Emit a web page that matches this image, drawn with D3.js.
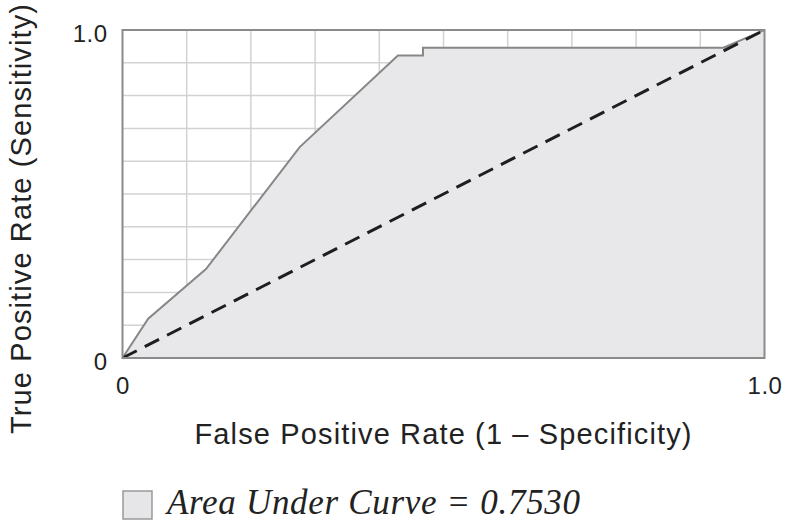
<!DOCTYPE html>
<html>
<head>
<meta charset="utf-8">
<script src="https://cdn.jsdelivr.net/npm/d3@7/dist/d3.min.js"></script>
<style>
  html, body { margin: 0; padding: 0; background: #fff; }
  svg { display: block; }
</style>
</head>
<body>
<svg id="chart" width="787" height="521"></svg>
<script>
// ROC curve points (false positive rate, true positive rate)
const fpr = [0, 0.04, 0.130, 0.276, 0.429, 0.468, 0.468, 0.936, 1];
const tpr = [0, 0.12, 0.271, 0.643, 0.922, 0.922, 0.946, 0.946, 1];
const gridTicks = [0.1, 0.2, 0.3, 0.4, 0.5, 0.6, 0.7, 0.8, 0.9];
const axisTicks = [0, 1];
const tickLabels = ["0", "1.0"];
const xTitle = "False Positive Rate (1 \u2013 Specificity)";
const yTitle = "True Positive Rate (Sensitivity)";
const legendLabel = "Area Under Curve = 0.7530";

const svg = d3.select("#chart");
const x = d3.scaleLinear().domain([0, 1]).range([122.5, 764.5]);
const y = d3.scaleLinear().domain([0, 1]).range([358, 30]);
const pts = fpr.map((f, i) => [f, tpr[i]]);

const sans = "'Liberation Sans', Arial, Helvetica, sans-serif";
const ink = "#222";

// grid
const g = svg.append("g");
g.selectAll("line.vx").data(gridTicks).join("line")
  .attr("x1", d => x(d)).attr("x2", d => x(d))
  .attr("y1", y(0)).attr("y2", y(1))
  .attr("stroke", "#d2d2d2").attr("stroke-width", 1.5);
g.selectAll("line.hy").data(gridTicks).join("line")
  .attr("y1", d => y(d)).attr("y2", d => y(d))
  .attr("x1", x(0)).attr("x2", x(1))
  .attr("stroke", "#d2d2d2").attr("stroke-width", 1.5);

// area under the ROC curve
const area = d3.area().x(d => x(d[0])).y0(y(0)).y1(d => y(d[1]));
svg.append("path").datum(pts)
  .attr("d", area)
  .attr("fill", "#e8e8ea");

const line = d3.line().x(d => x(d[0])).y(d => y(d[1]));
svg.append("path").datum(pts)
  .attr("d", line)
  .attr("fill", "none")
  .attr("stroke", "#878787")
  .attr("stroke-width", 2)
  .attr("stroke-linejoin", "miter");

// chance diagonal
svg.append("path").datum([[0, 0], [1, 1]])
  .attr("d", line)
  .attr("fill", "none")
  .attr("stroke", "#1e1e1e")
  .attr("stroke-width", 3)
  .attr("stroke-dasharray", "16,9");

// frame
svg.append("rect")
  .attr("x", x(0)).attr("y", y(1))
  .attr("width", x(1) - x(0)).attr("height", y(0) - y(1))
  .attr("fill", "none")
  .attr("stroke", "#8a8a8a")
  .attr("stroke-width", 2);

// axes
const yAxis = d3.axisLeft(y).tickValues(axisTicks)
  .tickFormat((d, i) => tickLabels[i]).tickSize(0).tickPadding(15);
const ya = svg.append("g").attr("transform", `translate(${x(0)},0)`).call(yAxis);
ya.select(".domain").remove();
ya.selectAll("text").attr("font-family", sans).attr("font-size", 24)
  .attr("letter-spacing", 0.5)
  .attr("fill", ink).attr("dy", "0.48em");

const xAxis = d3.axisBottom(x).tickValues(axisTicks)
  .tickFormat((d, i) => tickLabels[i]).tickSize(0).tickPadding(19);
const xa = svg.append("g").attr("transform", `translate(0,${y(0)})`).call(xAxis);
xa.select(".domain").remove();
xa.selectAll("text").attr("font-family", sans).attr("font-size", 24)
  .attr("letter-spacing", 0.5)
  .attr("fill", ink).attr("dy", "0.71em");

// axis titles
svg.append("text")
  .attr("x", 443).attr("y", 444)
  .attr("text-anchor", "middle")
  .attr("font-family", sans).attr("font-size", 29).attr("fill", ink)
  .attr("textLength", 497).attr("lengthAdjust", "spacing")
  .text(xTitle);

svg.append("text")
  .attr("transform", "translate(31,219) rotate(-90)")
  .attr("text-anchor", "middle")
  .attr("font-family", sans).attr("font-size", 29).attr("fill", ink)
  .attr("textLength", 430).attr("lengthAdjust", "spacing")
  .text(yTitle);

// legend
svg.append("rect")
  .attr("x", 123).attr("y", 491).attr("width", 29).attr("height", 28)
  .attr("fill", "#e6e6e8").attr("stroke", "#999").attr("stroke-width", 1.5);
svg.append("text")
  .attr("x", 167).attr("y", 514)
  .attr("font-family", "'Liberation Serif', 'Times New Roman', serif")
  .attr("font-style", "italic")
  .attr("font-size", 35).attr("fill", ink)
  .attr("textLength", 413).attr("lengthAdjust", "spacing")
  .text(legendLabel);
</script>
</body>
</html>
